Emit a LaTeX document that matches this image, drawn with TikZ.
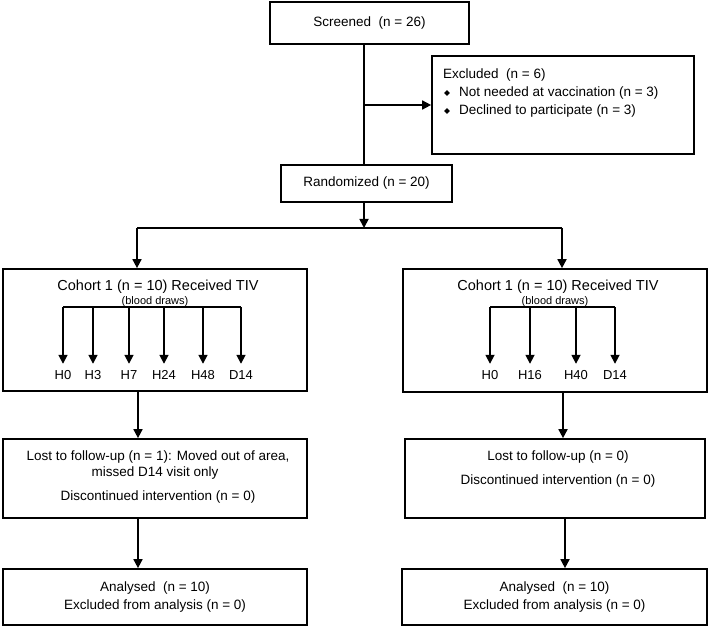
\documentclass[tikz,border=0pt]{standalone}
\usepackage{fontspec}
\setmainfont{Liberation Sans}
\usetikzlibrary{arrows.meta,shapes.geometric}
\begin{document}
\begin{tikzpicture}[x=1pt,y=-1pt,
  box/.style={draw,line width=1.7pt,rectangle,inner sep=0pt,align=center,font=\fontsize{13.5}{18}\selectfont},
  txt/.style={font=\fontsize{13.5}{16}\selectfont,inner sep=0pt},
  bigtxt/.style={font=\fontsize{14.5}{16}\selectfont,inner sep=0pt},
  smalltxt/.style={font=\fontsize{11}{12}\selectfont,inner sep=0pt},
  conn/.style={line width=1.7pt},
  arr/.style={conn,-{Triangle[length=9pt,width=9pt]}},
  tp/.style={font=\fontsize{13}{14}\selectfont,text height=10pt,text depth=0pt,inner sep=1pt},
  bullet/.style={diamond,fill=black,inner sep=0pt,minimum size=6pt}]
\useasboundingbox (0,0) rectangle (709,628);

% boxes
\node[box,minimum width=199pt,minimum height=42pt] (scr) at (369.5,23) {Screened\ \ (n = 26)};
\node[box,minimum width=262pt,minimum height=98pt] (excl) at (563,105) {};
\node[box,minimum width=171pt,minimum height=37pt] (rand) at (366.5,183.5) {Randomized (n = 20)};
\node[box,minimum width=304pt,minimum height=122pt] (cohL) at (155,330) {};
\node[box,minimum width=304pt,minimum height=123pt] (cohR) at (555,330.5) {};
\node[box,minimum width=304pt,minimum height=79pt] (lostL) at (155,478.5) {};
\node[box,minimum width=300pt,minimum height=79pt] (lostR) at (555,478.5) {};
\node[box,minimum width=304pt,minimum height=56pt] (anaL) at (155,597) {Analysed\ \ (n = 10)\\Excluded from analysis (n = 0)};
\node[box,minimum width=305pt,minimum height=56pt] (anaR) at (554.5,597) {Analysed\ \ (n = 10)\\Excluded from analysis (n = 0)};

% excluded text
\node[txt,anchor=west] (ex0) at (443,75) {Excluded\ \ (n = 6)};
\node[bullet] (b1) at (447,93) {};
\node[txt,anchor=west] (ex1) at (459,93) {Not needed at vaccination (n = 3)};
\node[bullet] (b2) at (447,111) {};
\node[txt,anchor=west] (ex2) at (459,111) {Declined to participate (n = 3)};

% cohort texts
\node[bigtxt] (cL1) at (158,287) {Cohort 1 (n = 10) Received TIV};
\node[smalltxt] (cL2) at (155,302) {(blood draws)};
\node[bigtxt] (cR1) at (558,287) {Cohort 1 (n = 10) Received TIV};
\node[smalltxt] (cR2) at (555,302) {(blood draws)};

% lost texts
\node[txt] (lL1) at (158,457) {Lost to follow-up (n = 1): Moved out of area,};
\node[txt] (lL2) at (155,473) {missed D14 visit only};
\node[txt] (lL3) at (158,497) {Discontinued intervention (n = 0)};
\node[txt] (lR1) at (558,457) {Lost to follow-up (n = 0)};
\node[txt] (lR2) at (558,481) {Discontinued intervention (n = 0)};

% main connectors
\coordinate (trunk) at (364,0);
\draw[conn] (scr.south -| trunk) -- (rand.north -| trunk);
\draw[arr] (trunk |- excl.west) -- (excl.west);
\coordinate (split) at (364,228);
\draw[arr] (rand.south -| split) -- (split);
\coordinate (brL) at (137,228);
\coordinate (brR) at (562,228);
\draw[conn] (brL) -- (brR);
\draw[arr] (brL) -- (cohL.north -| brL);
\draw[arr] (brR) -- (cohR.north -| brR);
\coordinate (xL) at (138,0);
\coordinate (xR) at (563,0);
\coordinate (xR2) at (565,0);
\draw[arr] (cohL.south -| xL) -- (lostL.north -| xL);
\draw[arr] (lostL.south -| xL) -- (anaL.north -| xL);
\draw[arr] (cohR.south -| xR) -- (lostR.north -| xR);
\draw[arr] (lostR.south -| xR2) -- (anaR.north -| xR2);

% blood draw brackets left
\foreach \x/\lab/\n in {63/H0/1,93/H3/2,129/H7/3,164/H24/4,203/H48/5,241/D14/6}{
  \coordinate (tl\n) at (\x,307);
  \node[tp] (hl\n) at (\x,374) {\lab};
  \draw[arr,shorten >=4pt] (tl\n) -- (hl\n.north);
}
\draw[conn] (tl1) -- (tl6);
% right
\foreach \x/\lab/\n in {490/H0/1,530/H16/2,576/H40/3,615/D14/4}{
  \coordinate (tr\n) at (\x,307);
  \node[tp] (hr\n) at (\x,374) {\lab};
  \draw[arr,shorten >=4pt] (tr\n) -- (hr\n.north);
}
\draw[conn] (tr1) -- (tr4);
\end{tikzpicture}
\end{document}
